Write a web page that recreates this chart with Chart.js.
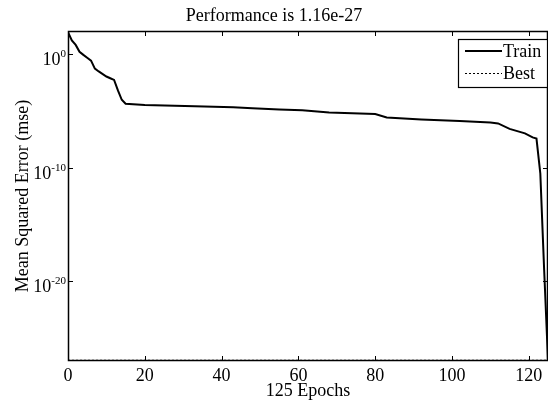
<!DOCTYPE html>
<html>
<head>
<meta charset="utf-8">
<script src="https://cdn.jsdelivr.net/npm/chart.js@4"></script>
<style>
  html,body{margin:0;padding:0;background:#fff;}
  #wrap{width:548px;height:406px;position:relative;}
</style>
</head>
<body>
<div id="wrap"><canvas id="c"></canvas></div>
<script>
// ---- data ----
const titleText = 'Performance is 1.16e-27';
const xTitle = '125 Epochs';
const yTitle = 'Mean Squared Error (mse)';
const epochs = [0,1,2,3,4,5,6,7,8,10,11,12,13,14,15,20,33,43,48,55,61,68,80,83,92,102,110,112,115,119,121,122,123,124,125];
const trainMSE = [80,15,6,1.5,0.8,0.45,0.25,0.05,0.028,0.01,0.007,0.005,6e-4,9e-5,4e-5,3.2e-5,2.5e-5,2e-5,1.6e-5,1.25e-5,1.1e-5,7e-6,5e-6,2.5e-6,1.7e-6,1.25e-6,9e-7,7.5e-7,2.5e-7,1e-7,4.5e-8,3.5e-8,3e-11,1e-19,1.16e-27];
const bestEpoch = 125;
const bestPerf = 1.16e-27;
const xTicks = [0,20,40,60,80,100,120];
const yTicks = [1,1e-10,1e-20];
const yTickBase = ['10','10','10'];
const yTickExp = ['0','-10','-20'];
const xRange = [0,125];
const yRange = [1e-27,1e2];

const FONT = "'Liberation Serif','Times New Roman',serif";

const trainPts = epochs.map((e,i)=>({x:e,y:trainMSE[i]}));
const bestPts = [{x:xRange[0],y:bestPerf},{x:bestEpoch,y:bestPerf},{x:bestEpoch,y:yRange[1]}];

const framePlugin = {
  id:'frame',
  afterDatasetsDraw(chart){
    const {ctx, chartArea:a, scales:{x,y}} = chart;
    ctx.save();
    ctx.strokeStyle='#000';
    ctx.lineWidth=1;
    const tl=5;
    ctx.beginPath();
    xTicks.forEach(v=>{
      const px=Math.round(x.getPixelForValue(v))+0.5;
      ctx.moveTo(px,a.bottom); ctx.lineTo(px,a.bottom-tl);
      ctx.moveTo(px,a.top); ctx.lineTo(px,a.top+tl);
    });
    yTicks.forEach(v=>{
      const py=Math.round(y.getPixelForValue(v))+0.5;
      ctx.moveTo(a.left,py); ctx.lineTo(a.left+tl,py);
      ctx.moveTo(a.right,py); ctx.lineTo(a.right-tl,py);
    });
    ctx.stroke();
    ctx.lineWidth=1.5;
    ctx.strokeRect(a.left+0.5,a.top+0.5,a.right-a.left-1,a.bottom-a.top-1);
    // y tick labels with superscript exponents
    ctx.fillStyle='#000';
    ctx.textBaseline='alphabetic';
    ctx.textAlign='left';
    yTicks.forEach((v,i)=>{
      const py=y.getPixelForValue(v);
      ctx.font="11px "+FONT;
      const ew=ctx.measureText(yTickExp[i]).width;
      ctx.font="18px "+FONT;
      const bw=ctx.measureText(yTickBase[i]).width;
      const right=a.left-2;
      const bx=right-ew-bw;
      ctx.fillText(yTickBase[i],bx,py+11);
      ctx.font="11px "+FONT;
      ctx.fillText(yTickExp[i],bx+bw,py+3);
    });
    ctx.restore();
  },
  afterDraw(chart){
    const {ctx} = chart;
    const bx=458, by=39, bw=89, bh=48;
    ctx.save();
    ctx.fillStyle='#fff';
    ctx.fillRect(bx,by,bw,bh);
    ctx.strokeStyle='#000';
    ctx.lineWidth=1.2;
    ctx.strokeRect(bx+0.5,by+0.5,bw,bh);
    chart.data.datasets.forEach((ds,i)=>{
      const ry = by + 12 + i*22.5;
      ctx.beginPath();
      ctx.setLineDash(ds.borderDash||[]);
      ctx.lineWidth=ds.borderWidth;
      ctx.strokeStyle=ds.borderColor;
      ctx.moveTo(bx+7,ry); ctx.lineTo(bx+44,ry);
      ctx.stroke();
      ctx.setLineDash([]);
      ctx.fillStyle='#000';
      ctx.font="18px "+FONT;
      ctx.textBaseline='middle';
      ctx.textAlign='left';
      ctx.fillText(ds.label,bx+45,ry+1);
    });
    ctx.restore();
  }
};

new Chart(document.getElementById('c'),{
  type:'line',
  data:{datasets:[
    {label:'Train',data:trainPts,borderColor:'#000',borderWidth:2,pointRadius:0,tension:0,fill:false},
    {label:'Best',data:bestPts,borderColor:'#000',borderWidth:1,borderDash:[2,2],pointRadius:0,tension:0,fill:false}
  ]},
  options:{
    responsive:true,maintainAspectRatio:false,animation:false,devicePixelRatio:1,
    layout:{padding:{left:0,right:0,top:0,bottom:0}},
    plugins:{
      legend:{display:false},
      tooltip:{enabled:false},
      title:{display:true,text:titleText,color:'#000',font:{family:FONT,size:18,weight:'normal'},padding:{top:5,bottom:4.4}}
    },
    scales:{
      x:{type:'linear',min:xRange[0],max:xRange[1],
        afterBuildTicks:s=>{s.ticks=xTicks.map(v=>({value:v}));},
        afterFit:s=>{s.height=45;},
        grid:{display:false,drawTicks:false},border:{display:false},
        ticks:{color:'#000',font:{family:FONT,size:18},padding:4,maxRotation:0,autoSkip:false,callback:v=>String(v)},
        title:{display:true,text:xTitle,color:'#000',font:{family:FONT,size:18},padding:{top:0,bottom:4}}
      },
      y:{type:'logarithmic',min:yRange[0],max:yRange[1],
        afterBuildTicks:s=>{s.ticks=yTicks.map(v=>({value:v}));},
        afterFit:s=>{s.width=68;},
        grid:{display:false,drawTicks:false},border:{display:false},
        ticks:{display:false},
        title:{display:true,text:yTitle,color:'#000',font:{family:FONT,size:18},padding:{top:12,bottom:0}}
      }
    }
  },
  plugins:[framePlugin]
});
</script>
</body>
</html>
